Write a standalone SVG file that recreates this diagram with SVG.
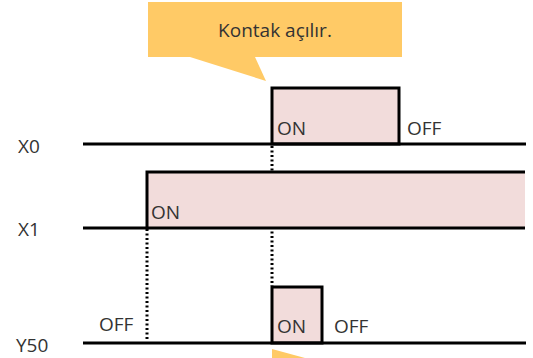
<svg xmlns="http://www.w3.org/2000/svg" width="533" height="358" viewBox="0 0 533 358">
  <style>
    .lbl { font-family: "Open Sans", "Noto Sans", "DejaVu Sans", sans-serif; font-size: 19px; fill: #333; }
    .sig { fill: none; stroke: #000; stroke-width: 3; stroke-linejoin: miter; }
    .pulse { fill: #F2DCDB; stroke: #000; stroke-width: 3; }
    .dot { fill: none; stroke: #000; stroke-width: 3; stroke-dasharray: 2 2.5; }
    .note { fill: #FFCA66; }
  </style>
  <rect width="533" height="358" fill="#fff"/>

  <!-- dotted guides -->
  <g id="connectors">
    <line class="dot" x1="272" y1="146" x2="272" y2="286"/>
    <line class="dot" x1="147" y1="229" x2="147" y2="341"/>
  </g>

  <!-- callout -->
  <g id="callout">
    <rect class="note" x="148" y="2" width="254" height="55"/>
    <polygon class="note" points="190,57 255,57 266,81"/>
    <text class="lbl" x="275" y="37" text-anchor="middle">Kontak açılır.</text>
  </g>

  <!-- X0 -->
  <g id="x0">
    <text class="lbl" x="18" y="153">X0</text>
    <rect class="pulse" x="272" y="88" width="127" height="56"/>
    <line class="sig" x1="83" y1="144" x2="526" y2="144"/>
    <text class="lbl" x="277" y="135">ON</text>
    <text class="lbl" x="407" y="135">OFF</text>
  </g>

  <!-- X1 -->
  <g id="x1">
    <text class="lbl" x="18" y="236">X1</text>
    <rect x="147" y="172" width="378" height="56" fill="#F2DCDB"/>
    <polyline class="sig" points="83,228 147,228 147,172 525,172"/>
    <line class="sig" x1="147" y1="228" x2="525" y2="228"/>
    <text class="lbl" x="151" y="219">ON</text>
  </g>

  <!-- Y50 -->
  <g id="y50">
    <text class="lbl" x="16" y="352">Y50</text>
    <rect class="pulse" x="272" y="287" width="50" height="56"/>
    <line class="sig" x1="83" y1="343" x2="526" y2="343"/>
    <text class="lbl" x="99" y="331">OFF</text>
    <text class="lbl" x="277" y="333">ON</text>
    <text class="lbl" x="334" y="333">OFF</text>
    <polygon class="note" points="272,349 305,358 272,358"/>
  </g>
</svg>
